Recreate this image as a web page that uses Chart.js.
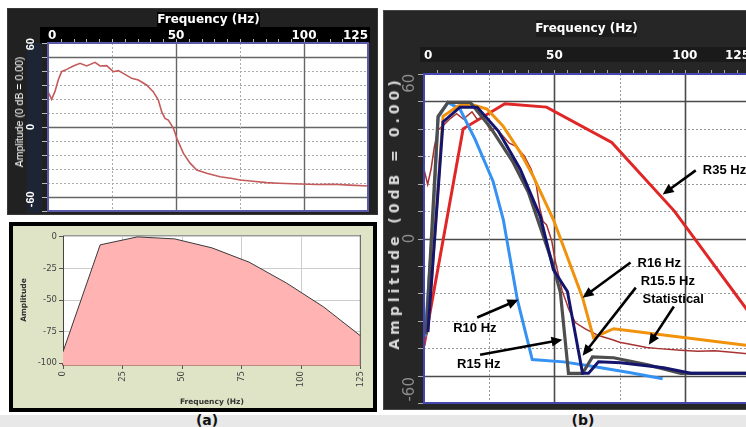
<!DOCTYPE html>
<html><head><meta charset="utf-8">
<script src="https://cdn.jsdelivr.net/npm/chart.js@4/dist/chart.umd.min.js"></script>
<style>
html,body{margin:0;padding:0;width:746px;height:427px;overflow:hidden;background:#fff;font-family:"DejaVu Sans",sans-serif;}
.a{position:absolute;box-sizing:border-box;}
.rot{position:absolute;transform:translate(-50%,-50%) rotate(-90deg);white-space:nowrap;}
</style></head><body>
<!-- panel (a) top -->
<div class="a" style="left:7px;top:8px;width:371px;height:207px;background:#212121;border:1px solid #383838"></div>
<div class="a" style="left:27px;top:43px;width:15px;height:170px;background:#1d2535"></div>
<div class="a" style="left:157px;top:12px;width:103px;height:15px;background:#000"></div>
<div class="a" style="left:40px;top:27px;width:330px;height:16px;background:#000"></div>
<!-- panel (a) bottom -->
<div class="a" style="left:9px;top:222px;width:368px;height:190px;background:#e0e4c6;border:4px solid #000"></div>
<!-- panel (b) -->
<div class="a" style="left:383px;top:10px;width:380px;height:400px;background:#262626;border:1px solid #474747"></div>
<div class="a" style="left:536px;top:20px;width:101px;height:17px;background:#1c1c1c"></div>
<div class="a" style="left:420px;top:47px;width:340px;height:15px;background:#1a1a1a"></div>
<!-- bottom band -->
<div class="a" style="left:0;top:415px;width:746px;height:12px;background:#e8e8e8"></div>

<canvas id="c1" width="370" height="205" style="position:absolute;left:8px;top:10px"></canvas>
<canvas id="c2" width="360" height="182" style="position:absolute;left:13px;top:226px"></canvas>
<canvas id="c3" width="380" height="400" style="position:absolute;left:383px;top:10px"></canvas>

<div class="a" style="left:150px;top:12px;width:117px;height:15px;color:#fff;font:bold 12px 'DejaVu Sans';text-align:center;line-height:15px;white-space:nowrap">Frequency (Hz)</div>
<div class="rot" style="left:19px;top:112px;color:#fff;font:10.5px 'Liberation Sans Narrow','Liberation Sans',sans-serif">Amplitude (0 dB = 0.00)</div>
<div class="a" style="left:526px;top:20px;width:121px;height:17px;color:#fff;font:bold 12px 'DejaVu Sans';text-align:center;line-height:17px;white-space:nowrap">Frequency (Hz)</div>
<div class="rot" style="left:394px;top:213px;color:#d9d9d9;font:bold 14px 'DejaVu Sans';letter-spacing:4px">Amplitude (0dB = 0.00)</div>
<div class="rot" style="left:207px;top:420px;transform:translate(-50%,-50%);font:bold 14px 'DejaVu Sans';color:#111">(a)</div>
<div class="rot" style="left:583px;top:420px;transform:translate(-50%,-50%);font:bold 14px 'DejaVu Sans';color:#111">(b)</div>

<script>
// ---------- data ----------
const X_TICKS_PRO = [0, 50, 100, 125];
const X_TICKS_FFT = [0, 25, 50, 75, 100, 125];
const Y_TICKS_FFT = [-100, -75, -50, -25, 0];
const Y_LABELS_PRO = ['60', '0', '-60'];

// statistical response (panel a top, and "Statistical" in panel b)
const STAT_FREQ = [0,1.4,2.7,4,5.3,7.3,9.9,12.5,15.1,18.4,20.3,22.9,25.5,27.5,29.4,32.7,35.3,38.5,41.1,43.1,44.4,45.7,47,49,50.3,52.9,55.5,58.1,62,67.2,72,75,80,85.4,90,98.4,105,111.5,118,125];
const STAT_DB = [30.3,23.7,30.3,40.3,47.4,49.4,52.3,54.6,52.3,55.4,52.3,52.6,47.4,48.3,46,41.7,40.3,36,30.3,23.1,13.1,7.4,6,-1.1,-9.7,-22.6,-31,-36.9,-39.7,-42.6,-44.2,-45.4,-46.5,-47.7,-48.2,-48.9,-49.3,-49.1,-49.8,-50.6];

// FFT amplitude (panel a bottom)
const FFT_FREQ = [0,15.6,31.25,46.9,62.5,78.1,93.75,109.4,125];
const FFT_AMP = [-91,-6.3,0,-1.6,-8.7,-20,-36.5,-55.5,-78.6];

// panel b series
const R35_FREQ = [0,15,31,47,72,96,125];
const R35_DB = [-47,48,59,57.5,42,12,-33];
const R10_FREQ = [0.4,3.5,5.4,9.2,13.8,19.6,26.5,30.4,35.8,41.5,53.5,65,79.2,91.5];
const R10_DB = [-43,8,53,59.6,56.6,43.4,25,8.3,-26.8,-53,-54,-56,-58.8,-61.4];
const R15_FREQ = [0.8,5.4,9.2,17.7,25.4,34.2,40,49.2,52.3,55.4,60.8,64.6,72.7,85.8,98.5,125];
const R15_DB = [-42,53.5,59.6,59.6,48.7,33.3,20.2,-10.5,-23.7,-59,-59,-51.8,-52.2,-55.3,-59,-59];
const R155_FREQ = [1.5,7.3,13.8,20.4,28.5,36.9,44.6,49.6,55,60.8,63.1,66.9,75.4,91.9,102.3,125];
const R155_DB = [-41,51,57.5,57.5,47,30.3,9.6,-13.6,-23.2,-59,-59,-54,-54.4,-56.6,-59,-59];
const R16_FREQ = [1.5,7.3,13.1,17.7,24.2,30.4,36.9,41.9,49.6,60.8,65,72.7,125];
const R16_DB = [-40,53.5,58,58.8,56.6,49.1,37.7,27.2,8.3,-25.9,-43.4,-39.5,-47];

// annotations in panel b (freq, dB)
const NOTE_TEXT = ['R35 Hz','R16 Hz','R15.5 Hz','Statistical','R10 Hz','R15 Hz'];
const NOTE_AT = [[106.9,29.8],[81.9,-11],[83.1,-18.9],[83.8,-26.8],[11.2,-39.5],[12.7,-55.3]];
const ARROW_FROM = [[104.2,29.8],[79.2,-10.5],[81.2,-21.5],[95.8,-29.8],[20.4,-34.6],[21.5,-50.9]];
const ARROW_TO = [[91.5,19.3],[60.8,-25.9],[60.8,-51.3],[86.2,-46.5],[36.2,-26.8],[53.1,-44.3]];

// ---------- helpers ----------
const pts = (fx, fy) => fx.map((v, i) => ({x: v, y: fy[i]}));
Chart.defaults.font.family = "'DejaVu Sans', sans-serif";
Chart.defaults.animation = false;

function proFrame(o) {
  return {
    id: 'proFrame',
    beforeDatasetsDraw(chart) {
      const {ctx, chartArea: a, scales: {x, y}} = chart;
      ctx.save();
      ctx.fillStyle = '#fff';
      ctx.fillRect(a.left, a.top, a.right - a.left, a.bottom - a.top);
      for (let v = -60; v <= 60; v += 12) {
        const py = Math.round(y.getPixelForValue(v)) + 0.5;
        const solid = v % 60 === 0;
        ctx.beginPath();
        ctx.setLineDash(solid ? [] : [2, 2]);
        ctx.strokeStyle = solid ? o.solid : o.dot;
        ctx.lineWidth = solid ? o.solidW : 1;
        ctx.moveTo(a.left, py); ctx.lineTo(a.right, py); ctx.stroke();
      }
      [25, 50, 75, 100].forEach(v => {
        const px = Math.round(x.getPixelForValue(v)) + 0.5;
        const solid = v % 50 === 0;
        ctx.beginPath();
        ctx.setLineDash(solid ? [] : [2, 2]);
        ctx.strokeStyle = solid ? o.solid : o.dot;
        ctx.lineWidth = solid ? o.solidW : 1;
        ctx.moveTo(px, a.top); ctx.lineTo(px, a.bottom); ctx.stroke();
      });
      ctx.restore();
    },
    afterDatasetsDraw(chart) {
      const {ctx, chartArea: a, scales: {x, y}} = chart;
      ctx.save();
      ctx.setLineDash([]);
      ctx.strokeStyle = o.border; ctx.lineWidth = 2;
      ctx.strokeRect(a.left, a.top, a.right - a.left, a.bottom - a.top);
      ctx.strokeStyle = o.tick; ctx.lineWidth = 1;
      for (let v = 5; v < 125; v += 5) {
        const px = Math.round(x.getPixelForValue(v)) + 0.5;
        ctx.beginPath(); ctx.moveTo(px, a.top - 1); ctx.lineTo(px, a.top - o.tickLen); ctx.stroke();
      }
      for (let v = -72; v <= 72; v += 12) {
        const py = Math.round(y.getPixelForValue(v)) + 0.5;
        ctx.beginPath(); ctx.moveTo(a.left - 1, py); ctx.lineTo(a.left - o.tickLen - 2, py); ctx.stroke();
      }
      ctx.fillStyle = o.labColor; ctx.font = o.labFont;
      ctx.textAlign = 'center'; ctx.textBaseline = 'middle';
      Y_LABELS_PRO.forEach((t, i) => {
        const py = y.getPixelForValue(o.labAt[i]);
        ctx.save(); ctx.translate(o.labX, py); ctx.rotate(-Math.PI / 2);
        ctx.fillText(t, 0, 0); ctx.restore();
      });
      if (o.notes) {
        ctx.fillStyle = '#000'; ctx.strokeStyle = '#000'; ctx.lineWidth = 2.6;
        ARROW_FROM.forEach((f, i) => {
          const x1 = x.getPixelForValue(f[0]), y1 = y.getPixelForValue(f[1]);
          const x2 = x.getPixelForValue(ARROW_TO[i][0]), y2 = y.getPixelForValue(ARROW_TO[i][1]);
          const ang = Math.atan2(y2 - y1, x2 - x1), L = 11, W = 5;
          ctx.beginPath(); ctx.moveTo(x1, y1);
          ctx.lineTo(x2 - L * 0.8 * Math.cos(ang), y2 - L * 0.8 * Math.sin(ang)); ctx.stroke();
          ctx.beginPath(); ctx.moveTo(x2, y2);
          ctx.lineTo(x2 - L * Math.cos(ang) + W * Math.sin(ang), y2 - L * Math.sin(ang) - W * Math.cos(ang));
          ctx.lineTo(x2 - L * Math.cos(ang) - W * Math.sin(ang), y2 - L * Math.sin(ang) + W * Math.cos(ang));
          ctx.closePath(); ctx.fill();
        });
        ctx.font = "bold 13px 'Liberation Sans', Arial, sans-serif";
        ctx.textAlign = 'left'; ctx.textBaseline = 'middle';
        NOTE_TEXT.forEach((t, i) => {
          ctx.fillText(t, x.getPixelForValue(NOTE_AT[i][0]), y.getPixelForValue(NOTE_AT[i][1]));
        });
      }
      ctx.restore();
    }
  };
}

function proScales(axisH, axisW, pad) {
  return {
    x: {
      type: 'linear', position: 'top', min: 0, max: 125,
      afterBuildTicks: s => { s.ticks = X_TICKS_PRO.map(v => ({value: v})); },
      ticks: {color: '#fff', font: {size: 12, weight: 'bold'}, padding: pad, align: 'inner', autoSkip: false, maxRotation: 0},
      grid: {display: false, drawTicks: false, tickLength: 0}, border: {display: false},
      afterFit: s => { s.height = axisH; }
    },
    y: {
      type: 'linear', min: -72, max: 72,
      ticks: {display: false}, grid: {display: false}, border: {display: false},
      afterFit: s => { s.width = axisW; }
    }
  };
}

// ---------- chart 1: statistical ----------
new Chart(document.getElementById('c1'), {
  type: 'line',
  data: {datasets: [{data: pts(STAT_FREQ, STAT_DB), borderColor: '#c45a5a', borderWidth: 1.6, pointRadius: 0, tension: 0}]},
  options: {
    responsive: false, devicePixelRatio: 1,
    layout: {padding: {left: 0, top: 0, right: 10, bottom: 4}},
    plugins: {legend: {display: false}, tooltip: {enabled: false}},
    scales: proScales(33, 40, 0)
  },
  plugins: [proFrame({solid: '#666', solidW: 1.4, dot: '#aaa', border: '#5a5aa8', tick: '#bbb', tickLen: 4,
    labColor: '#fff', labFont: "bold 11px 'Liberation Sans Narrow','Liberation Sans',sans-serif", labX: 23, labAt: [71, 0, -62]})]
});

// ---------- chart 2: FFT ----------
new Chart(document.getElementById('c2'), {
  type: 'line',
  data: {datasets: [{data: pts(FFT_FREQ, FFT_AMP), borderColor: '#3a3a3a', borderWidth: 1, backgroundColor: '#ffb3b3', fill: 'start', pointRadius: 0, tension: 0}]},
  options: {
    responsive: false, devicePixelRatio: 1,
    layout: {padding: {left: 0, top: 9, right: 10, bottom: 0}},
    plugins: {legend: {display: false}, tooltip: {enabled: false}},
    scales: {
      x: {
        type: 'linear', position: 'bottom', min: 0, max: 125,
        afterBuildTicks: s => { s.ticks = X_TICKS_FFT.map(v => ({value: v})); },
        ticks: {color: '#444', font: {size: 8.5}, minRotation: 90, maxRotation: 90, padding: 2, autoSkip: false},
        grid: {color: '#cdcdcd', tickColor: '#555', tickLength: 4},
        border: {color: '#a03030', width: 1.5},
        title: {display: true, text: 'Frequency (Hz)', color: '#333', font: {size: 7.5, weight: 'bold'}, padding: {top: 0, bottom: 1}},
        afterFit: s => { s.height = 43; }
      },
      y: {
        type: 'linear', min: -101.5, max: 1.5,
        afterBuildTicks: s => { s.ticks = Y_TICKS_FFT.map(v => ({value: v})); },
        ticks: {color: '#444', font: {size: 8.5}, padding: 2},
        grid: {color: '#cdcdcd', tickColor: '#555', tickLength: 4},
        border: {color: '#444'},
        title: {display: true, text: 'Amplitude', color: '#333', font: {size: 7.5, weight: 'bold'}, padding: {top: 7, bottom: 0}},
        afterFit: s => { s.width = 50; }
      }
    }
  },
  plugins: [{
    id: 'fftFrame',
    beforeDraw(chart) {
      const {ctx, chartArea: a} = chart;
      ctx.save(); ctx.fillStyle = '#fff';
      ctx.fillRect(a.left, a.top, a.right - a.left, a.bottom - a.top); ctx.restore();
    },
    afterDatasetsDraw(chart) {
      const {ctx, chartArea: a} = chart;
      ctx.save();
      ctx.strokeStyle = '#999'; ctx.lineWidth = 1;
      ctx.beginPath(); ctx.moveTo(a.left, a.top + 0.5); ctx.lineTo(a.right, a.top + 0.5); ctx.stroke();
      ctx.strokeStyle = '#555';
      ctx.beginPath(); ctx.moveTo(a.right - 0.5, a.top); ctx.lineTo(a.right - 0.5, a.bottom); ctx.stroke();
      ctx.restore();
    }
  }]
});

// ---------- chart 3: responses ----------
const ds = (fx, fy, c, w) => ({data: pts(fx, fy), borderColor: c, borderWidth: w, pointRadius: 0, tension: 0, fill: false});
new Chart(document.getElementById('c3'), {
  type: 'line',
  data: {datasets: [
    ds(R155_FREQ, R155_DB, '#15156e', 3),
    ds(R15_FREQ, R15_DB, '#4e4e4e', 3.2),
    ds(R16_FREQ, R16_DB, '#f0920c', 3),
    ds(R10_FREQ, R10_DB, '#3591f2', 3),
    ds(STAT_FREQ, STAT_DB, '#a83232', 1.5),
    ds(R35_FREQ, R35_DB, '#e02626', 3)
  ]},
  options: {
    responsive: false, devicePixelRatio: 1,
    layout: {padding: {left: 0, top: 0, right: 13, bottom: 7}},
    plugins: {legend: {display: false}, tooltip: {enabled: false}},
    scales: proScales(64, 41, 11)
  },
  plugins: [proFrame({solid: '#4a4a4a', solidW: 1.6, dot: '#999', border: '#4646b0', tick: '#aaa', tickLen: 4,
    labColor: '#8c8c8c', labFont: "15px 'DejaVu Sans',sans-serif", labX: 27, labAt: [68, 0, -66], notes: true})]
});
</script>
</body></html>
